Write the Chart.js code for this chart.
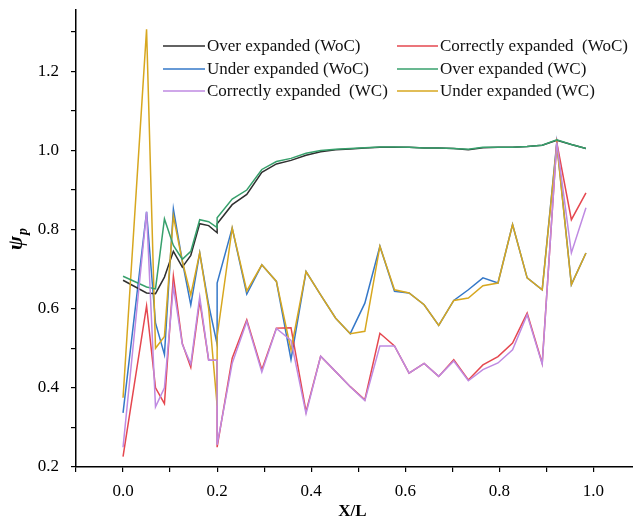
<!DOCTYPE html>
<html>
<head>
<meta charset="utf-8">
<script src="https://cdn.jsdelivr.net/npm/chart.js@4.4.1/dist/chart.umd.min.js"></script>
<style>
    body { margin: 0; background: #fff; }
</style>
</head>
<body>
<canvas id="psiChart" width="633" height="520"></canvas>
<script>
// X/L positions (0.2 appears twice, the curves jump there)
const xL = [0, 0.05, 0.069, 0.088, 0.107, 0.126, 0.144, 0.163, 0.182, 0.2, 0.2,
    0.232, 0.263, 0.295, 0.326, 0.357, 0.389, 0.42, 0.452, 0.483, 0.514, 0.546, 0.577,
    0.608, 0.64, 0.671, 0.703, 0.734, 0.765, 0.797, 0.828, 0.859, 0.891, 0.922, 0.953, 0.984];

const overWoC = [0.672, 0.64, 0.638, 0.68, 0.745, 0.705, 0.735, 0.815, 0.81, 0.792, 0.815,
    0.863, 0.889, 0.945, 0.966, 0.975, 0.988, 0.997, 1.002, 1.004, 1.006, 1.008, 1.008,
    1.008, 1.006, 1.006, 1.005, 1.002, 1.007, 1.008, 1.008, 1.01, 1.013, 1.026, 1.015, 1.005];
const correctWoC = [0.226, 0.607, 0.40, 0.36, 0.682, 0.512, 0.452, 0.62, 0.47, 0.47, 0.25,
    0.475, 0.572, 0.446, 0.551, 0.552, 0.34, 0.48, 0.441, 0.403, 0.37, 0.538, 0.506,
    0.437, 0.462, 0.429, 0.471, 0.42, 0.458, 0.479, 0.513, 0.589, 0.462, 1.02, 0.825, 0.893];
const underWoC = [0.337, 0.845, 0.564, 0.484, 0.852, 0.72, 0.61, 0.741, 0.61, 0.51, 0.665,
    0.804, 0.637, 0.711, 0.669, 0.472, 0.694, 0.635, 0.576, 0.537, 0.614, 0.758, 0.644,
    0.64, 0.61, 0.558, 0.621, 0.648, 0.678, 0.665, 0.813, 0.678, 0.648, 1.02, 0.661, 0.741];
const overWC = [0.682, 0.655, 0.65, 0.827, 0.76, 0.725, 0.745, 0.825, 0.82, 0.805, 0.83,
    0.877, 0.90, 0.952, 0.972, 0.98, 0.993, 1.0, 1.003, 1.005, 1.007, 1.009, 1.009,
    1.008, 1.006, 1.006, 1.005, 1.003, 1.008, 1.008, 1.008, 1.01, 1.013, 1.027, 1.015, 1.005];
const correctWC = [0.25, 0.845, 0.352, 0.40, 0.656, 0.51, 0.46, 0.63, 0.47, 0.47, 0.256,
    0.462, 0.568, 0.44, 0.55, 0.52, 0.335, 0.48, 0.441, 0.403, 0.368, 0.506, 0.506,
    0.437, 0.462, 0.429, 0.468, 0.418, 0.446, 0.463, 0.496, 0.585, 0.46, 1.02, 0.741, 0.855];
const underWC = [0.375, 1.306, 0.50, 0.53, 0.834, 0.72, 0.635, 0.741, 0.60, 0.355, 0.53,
    0.804, 0.645, 0.711, 0.669, 0.496, 0.694, 0.635, 0.576, 0.537, 0.543, 0.758, 0.648,
    0.64, 0.61, 0.558, 0.621, 0.627, 0.658, 0.665, 0.813, 0.678, 0.648, 1.015, 0.661, 0.741];

const seriesNames = ['Over expanded (WoC)', 'Correctly expanded  (WoC)', 'Under expanded (WoC)',
    'Over expanded (WC)', 'Correctly expanded  (WC)', 'Under expanded (WC)'];
const xTickValues = [-0.1, 0, 0.1, 0.2, 0.3, 0.4, 0.5, 0.6, 0.7, 0.8, 0.9, 1.0];
const yTickValues = [0.2, 0.3, 0.4, 0.5, 0.6, 0.7, 0.8, 0.9, 1.0, 1.1, 1.2, 1.3];

const serif = "'Liberation Serif', 'Times New Roman', serif";
const colors = ['#2f2f2f', '#e5474f', '#3578c8', '#37a06c', '#bf8ae2', '#d7a71f'];
const allSeries = [overWoC, correctWoC, underWoC, overWC, correctWC, underWC];
// WC curves sit on top of the WoC ones
const drawOrder = [4, 3, 5, 1, 0, 2];

function toPoints(values) {
    return values.map((v, i) => ({ x: xL[i], y: v }));
}

function evenLabel(value) {
    let tenth = Math.round(value * 10);
    if (tenth < 0 || tenth % 2 !== 0) {
        return '';
    }
    return (tenth / 10).toFixed(1);
}

function noOverflow(scale) {
    scale.paddingTop = 0;
    scale.paddingBottom = 0;
    scale.paddingLeft = 0;
    scale.paddingRight = 0;
}

const decorPlugin = {
    id: 'decor',
    afterDraw(chart) {
        const ctx = chart.ctx;
        const area = chart.chartArea;
        ctx.save();

        // legend, two columns
        const lineX = [163, 397];
        const textX = [207, 440];
        const rowY = [46, 69, 91];
        ctx.font = '17px ' + serif;
        ctx.textBaseline = 'middle';
        ctx.textAlign = 'left';
        chart.data.datasets.forEach((ds, i) => {
            let col = i % 2;
            let row = Math.floor(i / 2);
            ctx.strokeStyle = ds.borderColor;
            ctx.lineWidth = 1.5;
            ctx.beginPath();
            ctx.moveTo(lineX[col], rowY[row]);
            ctx.lineTo(textX[col] - 2, rowY[row]);
            ctx.stroke();
            ctx.fillStyle = '#111';
            ctx.fillText(ds.label, textX[col], rowY[row] + 1);
        });

        // x title
        ctx.font = 'bold 17px ' + serif;
        ctx.textAlign = 'center';
        ctx.fillStyle = '#000';
        ctx.fillText('X/L', (area.left + area.right) / 2 - 2, 512);

        // y title: psi with subscript p
        ctx.translate(17, 250);
        ctx.rotate(-Math.PI / 2);
        ctx.textAlign = 'left';
        ctx.font = 'italic bold 21px ' + serif;
        ctx.fillText('ψ', 0, 0);
        let w = ctx.measureText('ψ').width;
        ctx.font = 'italic bold 14px ' + serif;
        ctx.fillText('p', w + 1, 6);
        ctx.restore();
    }
};

function chartsetup() {
    return new Chart(document.getElementById('psiChart'), {
        type: 'scatter',
        data: {
            datasets: allSeries.map((values, i) => ({
                label: seriesNames[i],
                data: toPoints(values),
                showLine: true,
                borderColor: colors[i],
                backgroundColor: colors[i],
                borderWidth: 1.5,
                pointRadius: 0,
                tension: 0,
                order: drawOrder[i]
            }))
        },
        options: {
            responsive: false,
            animation: false,
            devicePixelRatio: 1,
            layout: { padding: { top: 10, right: 0, left: 0, bottom: 0 } },
            plugins: {
                legend: { display: false },
                tooltip: { enabled: false }
            },
            scales: {
                x: {
                    type: 'linear',
                    min: -0.1,
                    max: 1.084,
                    afterBuildTicks: function (scale) {
                        scale.ticks = xTickValues.map(v => ({ value: v }));
                    },
                    afterFit: function (scale) {
                        scale.height = 53;
                        noOverflow(scale);
                    },
                    ticks: {
                        autoSkip: false,
                        maxRotation: 0,
                        padding: 9,
                        color: '#000',
                        font: { family: serif, size: 17 },
                        callback: evenLabel
                    },
                    grid: {
                        drawOnChartArea: false,
                        drawTicks: true,
                        tickLength: 5,
                        color: '#000',
                        lineWidth: 1.2
                    },
                    border: { display: true, color: '#000', width: 1.5 }
                },
                y: {
                    type: 'linear',
                    min: 0.2,
                    max: 1.355,
                    afterBuildTicks: function (scale) {
                        scale.ticks = yTickValues.map(v => ({ value: v }));
                    },
                    afterFit: function (scale) {
                        scale.width = 76;
                        noOverflow(scale);
                    },
                    ticks: {
                        autoSkip: false,
                        padding: 12,
                        color: '#000',
                        font: { family: serif, size: 17 },
                        callback: evenLabel
                    },
                    grid: {
                        drawOnChartArea: false,
                        drawTicks: true,
                        tickLength: 5,
                        color: '#000',
                        lineWidth: 1.2
                    },
                    border: { display: true, color: '#000', width: 1.5 }
                }
            }
        },
        plugins: [decorPlugin]
    });
}

chartsetup();
</script>
</body>
</html>
